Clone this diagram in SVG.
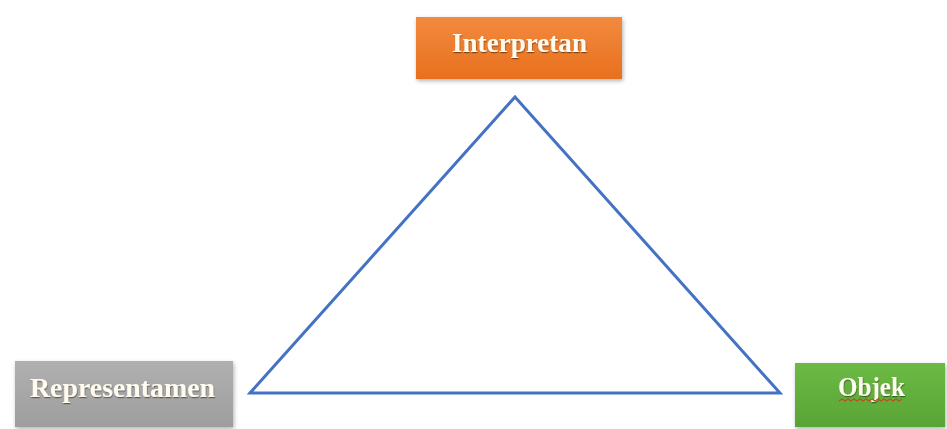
<svg xmlns="http://www.w3.org/2000/svg" width="947" height="429" viewBox="0 0 947 429">
<style>
.lbl{font-family:"Liberation Serif","DejaVu Serif",serif;font-size:27px;fill:#FFFBEF;text-anchor:middle;font-weight:bold}
.box{filter:url(#sh)}
</style>
<defs>
<linearGradient id="gO" x1="0" y1="0" x2="0" y2="1"><stop offset="0" stop-color="#F28A3F"/><stop offset="1" stop-color="#E8701E"/></linearGradient>
<linearGradient id="gG" x1="0" y1="0" x2="0" y2="1"><stop offset="0" stop-color="#B0B0B0"/><stop offset="1" stop-color="#9E9E9E"/></linearGradient>
<linearGradient id="gN" x1="0" y1="0" x2="0" y2="1"><stop offset="0" stop-color="#6CBA45"/><stop offset="1" stop-color="#58A435"/></linearGradient>
<filter id="sh" x="-10%" y="-20%" width="120%" height="150%"><feDropShadow dx="1" dy="2" stdDeviation="2" flood-color="#000" flood-opacity="0.3"/></filter>
<filter id="ts" x="-10%" y="-20%" width="120%" height="150%"><feDropShadow dx="0.5" dy="1.2" stdDeviation="0.7" flood-color="#000" flood-opacity="0.45"/></filter>
</defs>
<rect width="947" height="429" fill="#ffffff"/>
<g id="connectors">
<polygon points="515,97 250,393 780,393" fill="none" stroke="#4472C4" stroke-width="3" stroke-linejoin="miter"/>
</g>
<g id="interpretan">
<rect class="box" x="416" y="17" width="206" height="62" fill="url(#gO)"/>
<text class="lbl" x="519.5" y="52" textLength="135" lengthAdjust="spacingAndGlyphs" filter="url(#ts)">Interpretan</text>
</g>
<g id="representamen">
<rect class="box" x="15" y="361" width="218" height="66" fill="url(#gG)"/>
<text class="lbl" x="122.5" y="397" textLength="185" lengthAdjust="spacingAndGlyphs" filter="url(#ts)">Representamen</text>
</g>
<g id="objek">
<rect class="box" x="795" y="363" width="150" height="64" fill="url(#gN)"/>
<text class="lbl" x="871.5" y="396" textLength="67" lengthAdjust="spacingAndGlyphs" filter="url(#ts)">Objek</text>
<path d="M839,401 l3,-2 l3,2 l3,-2 l3,2 l3,-2 l3,2 l3,-2 l3,2 l3,-2 l3,2 l3,-2 l3,2 l3,-2 l3,2 l3,-2 l3,2 l3,-2 l3,2 l3,-2 l3,2 l3,-2" fill="none" stroke="#C0501A" stroke-width="1.2"/>
</g>
</svg>
